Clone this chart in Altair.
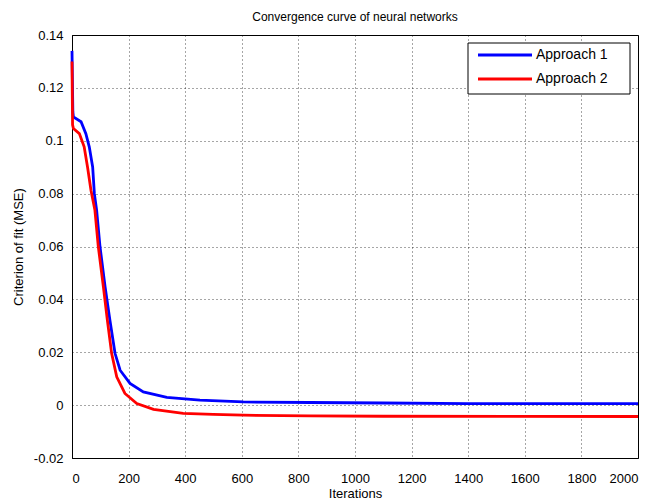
import altair as alt
import pandas as pd

# Approach 1 (blue)
iter_a1 = [0, 3, 5, 32, 49, 61, 73, 79, 87, 99, 117, 134, 152, 170, 205, 252, 335, 452, 605, 841, 1100, 1400, 2000]
mse_a1 = [0.134, 0.111, 0.109, 0.1072, 0.1027, 0.0977, 0.0901, 0.080, 0.0737, 0.0599, 0.0447, 0.0321, 0.0196,
          0.0132, 0.0082, 0.005, 0.0029, 0.0019, 0.0012, 0.001, 0.0008, 0.0006, 0.0006]
# Approach 2 (red)
iter_a2 = [0, 2, 5, 26, 43, 55, 67, 81, 93, 111, 125, 140, 158, 187, 229, 288, 393, 499, 605, 841, 1100, 2000]
mse_a2 = [0.130, 0.106, 0.1046, 0.1027, 0.0977, 0.090, 0.0813, 0.0737, 0.0599, 0.0447, 0.0321, 0.0196, 0.0107,
          0.0044, 0.0006, -0.0016, -0.0031, -0.0035, -0.0038, -0.0041, -0.0042, -0.0043]

series_names = ["Approach 1", "Approach 2"]
series_colors = ["#0000ff", "#ff0000"]

x_ticks = list(range(0, 2001, 200))
y_ticks = [-0.02, 0, 0.02, 0.04, 0.06, 0.08, 0.1, 0.12, 0.14]

df = pd.concat([
    pd.DataFrame({"Iterations": iter_a1, "MSE": mse_a1, "Series": series_names[0]}),
    pd.DataFrame({"Iterations": iter_a2, "MSE": mse_a2, "Series": series_names[1]}),
])

font = "Liberation Sans"

lines = alt.Chart(df).mark_line(strokeWidth=2.8, interpolate="linear").encode(
    x=alt.X("Iterations:Q",
            scale=alt.Scale(domain=[0, 2000], nice=False, zero=False),
            axis=alt.Axis(values=x_ticks, format="d", title="Iterations",
                          labelPadding=14, titlePadding=2)),
    y=alt.Y("MSE:Q",
            scale=alt.Scale(domain=[-0.02, 0.14], nice=False, zero=False),
            axis=alt.Axis(values=y_ticks, title="Criterion of fit (MSE)",
                          labelExpr="datum.value == 0 ? '0' : toString(round(datum.value*100)/100)",
                          labelPadding=9, titlePadding=8)),
    color=alt.Color("Series:N",
                    scale=alt.Scale(domain=series_names, range=series_colors),
                    legend=None),
)

# manual legend box (matching MATLAB style)
box = alt.Chart(pd.DataFrame({"k": [0]})).mark_rect(
    fill="#ffffff", stroke="#000000", strokeWidth=1
).encode(x=alt.value(396), x2=alt.value(558), y=alt.value(8), y2=alt.value(59))

legend_layers = [box]
for i, (name, col) in enumerate(zip(series_names, series_colors)):
    ypos = 20 + 24 * i
    d = pd.DataFrame({"label": [name]})
    legend_layers.append(
        alt.Chart(d).mark_rule(color=col, strokeWidth=2.8).encode(
            x=alt.value(406), x2=alt.value(460), y=alt.value(ypos))
    )
    legend_layers.append(
        alt.Chart(d).mark_text(align="left", baseline="middle", font=font, fontSize=14,
                               color="#000").encode(
            x=alt.value(464), y=alt.value(ypos), text="label:N")
    )

chart = alt.layer(lines, *legend_layers).properties(
    width=566,
    height=423,
    title=alt.TitleParams("Convergence curve of neural networks", font=font, fontSize=12,
                          fontWeight="normal", color="#000", offset=5),
    autosize=alt.AutoSizeParams(type="none"),
    padding={"left": 64, "top": 27, "right": 22, "bottom": 42},
).configure_view(
    stroke="#000", strokeWidth=1
).configure_axis(
    grid=True, gridColor="#000", gridDash=[1, 3], gridOpacity=0.7, gridWidth=1,
    domainColor="#000", tickColor="#000", tickSize=0,
    labelFont=font, labelFontSize=13, labelColor="#000",
    titleFont=font, titleFontSize=13, titleFontWeight="normal", titleColor="#000",
)

chart.save("out.html", embed_options={"renderer": "svg", "actions": False})
